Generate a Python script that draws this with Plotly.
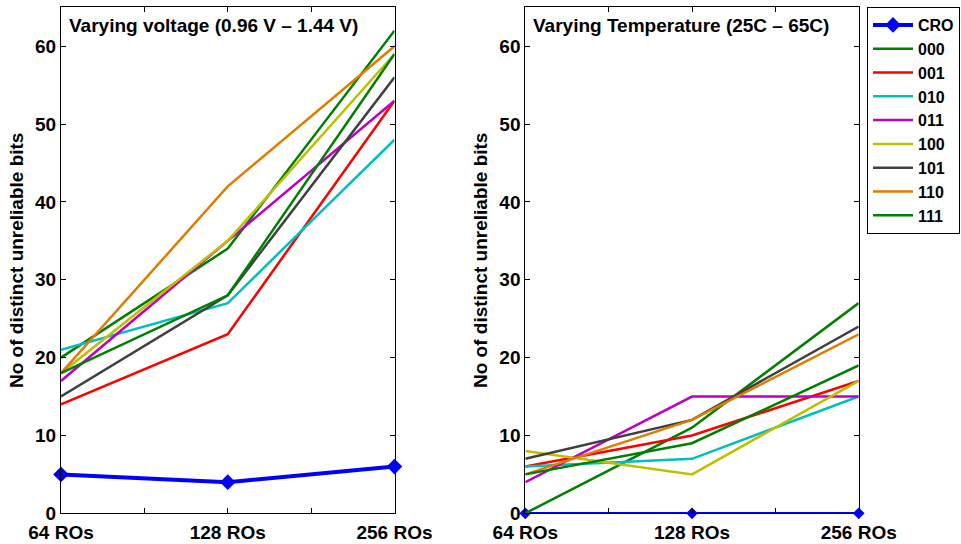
import plotly.graph_objects as go

# Array sizes along the x axis
categories = ["64 ROs", "128 ROs", "256 ROs"]

# Series names (CRO plus the eight 3-bit configurations)
series_names = ["CRO", "000", "001", "010", "011", "100", "101", "110", "111"]

# Distinct unreliable bits under varying supply voltage
voltage_values = {
    "CRO": [5, 4, 6],
    "000": [20, 34, 62],
    "001": [14, 23, 53],
    "010": [21, 27, 48],
    "011": [17, 35, 53],
    "100": [18, 35, 59],
    "101": [15, 28, 56],
    "110": [18, 42, 60],
    "111": [18, 28, 59],
}

# Distinct unreliable bits under varying temperature
temperature_values = {
    "CRO": [0, 0, 0],
    "000": [0, 11, 27],
    "001": [6, 10, 17],
    "010": [6, 7, 15],
    "011": [4, 15, 15],
    "100": [8, 5, 17],
    "101": [7, 12, 24],
    "110": [5, 12, 23],
    "111": [5, 9, 19],
}

panel_titles = ["Varying voltage (0.96 V \u2013 1.44 V)",
                "Varying Temperature (25C \u2013 65C)"]
y_title = "No of distinct unreliable bits"
y_ticks = [0, 10, 20, 30, 40, 50, 60]

colors = {
    "CRO": "#0000FF",
    "000": "#008000",
    "001": "#FF0000",
    "010": "#00BFBF",
    "011": "#BF00BF",
    "100": "#BFBF00",
    "101": "#404040",
    "110": "#DE7D00",
    "111": "#008000",
}

W, H = 961, 544
FONT = "Liberation Sans, Arial, Helvetica, sans-serif"
TXT = 19

x_pos = list(range(len(categories)))
tick_pos = [i * 0.5 for i in range(2 * len(categories) - 1)]
tick_text = [categories[int(t)] if t == int(t) else "" for t in tick_pos]

fig = go.Figure()

panels = [("x", "y", voltage_values, True), ("x2", "y2", temperature_values, False)]
for xa, ya, values, show in panels:
    for name in series_names:
        if name == "CRO":
            wide = 4 if show else 2.5
            fig.add_trace(go.Scatter(
                x=x_pos, y=values[name], name=name, xaxis=xa, yaxis=ya,
                mode="lines+markers",
                line=dict(color=colors[name], width=wide),
                marker=dict(symbol="diamond", size=12 if show else 9,
                            color=colors[name]),
                cliponaxis=False, showlegend=show,
            ))
        else:
            fig.add_trace(go.Scatter(
                x=x_pos, y=values[name], name=name, xaxis=xa, yaxis=ya,
                mode="lines", line=dict(color=colors[name], width=2.5),
                showlegend=show,
            ))

x_domains = [[61 / W, 394.5 / W], [525.3 / W, 858.7 / W]]
y_domain = [1 - 513.3 / H, 1 - 7.3 / H]

axis_common = dict(
    showgrid=False, zeroline=False, showline=True, linecolor="black",
    linewidth=1, mirror="ticks", ticks="inside", ticklen=5, tickcolor="black",
    tickwidth=1, tickfont=dict(size=TXT, color="black", family=FONT, weight="bold"),
)

layout = dict(
    width=W, height=H,
    margin=dict(l=0, r=0, t=0, b=0, autoexpand=False),
    paper_bgcolor="white", plot_bgcolor="white",
    font=dict(family=FONT, size=TXT, color="black", weight="bold"),
    legend=dict(
        x=867 / W, y=1 - 7 / H, xanchor="left", yanchor="top",
        bordercolor="black", borderwidth=1, bgcolor="white",
        font=dict(size=16, family=FONT, color="black", weight="bold"),
        itemwidth=40, tracegroupgap=0,
    ),
)

for i, (xa, ya) in enumerate([("xaxis", "yaxis"), ("xaxis2", "yaxis2")]):
    anchor_x = "y" if i == 0 else "y2"
    anchor_y = "x" if i == 0 else "x2"
    layout[xa] = dict(axis_common, domain=x_domains[i], anchor=anchor_x,
                      range=[0, len(categories) - 1], tickvals=tick_pos,
                      ticktext=tick_text, ticklabelstandoff=2)
    layout[ya] = dict(axis_common, domain=y_domain, anchor=anchor_y,
                      range=[0, 65], tickvals=y_ticks,
                      title=dict(text=y_title, standoff=6,
                                 font=dict(size=TXT, family=FONT, weight="bold")))

fig.update_layout(**layout)

for i, title in enumerate(panel_titles):
    suffix = "" if i == 0 else "2"
    fig.add_annotation(
        text=title, xref=f"x{suffix} domain", yref=f"y{suffix} domain",
        x=0, y=1, xanchor="left", yanchor="top", xshift=6, yshift=-6,
        showarrow=False,
        font=dict(size=TXT, family=FONT, color="black", weight="bold"),
    )

fig.write_html("out.html")
